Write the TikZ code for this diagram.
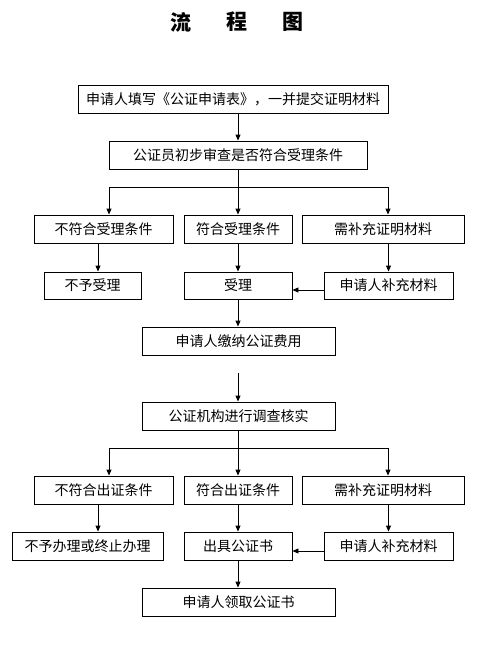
\documentclass[tikz,border=0pt]{standalone}
\usepackage{fontspec}
\setmainfont{Noto Sans CJK SC}
\usetikzlibrary{arrows.meta,positioning}
\tikzset{
  box/.style={draw, line width=0.9pt, inner sep=0pt, minimum height=28pt, font=\fontsize{14}{14}\selectfont},
  link/.style={line width=0.9pt},
  arr/.style={line width=0.9pt, -{Triangle[width=5pt,length=6pt]}}
}
\begin{document}
\begin{tikzpicture}[x=1pt,y=-1pt]
  \useasboundingbox[fill=white] (0,0) rectangle (480,651);
  \node[font=\fontsize{21}{21}\selectfont\bfseries] (ttlA) at (181,22) {流};
  \node[font=\fontsize{21}{21}\selectfont\bfseries] (ttlB) at (237,22) {程};
  \node[font=\fontsize{21}{21}\selectfont\bfseries] (ttlC) at (293,22) {图};

  \node[box, minimum width=310pt] (apply) at (233,99.5) {申请人填写《公证申请表》，一并提交证明材料};
  \node[box, minimum width=258pt] (check) at (238,155) {公证员初步审查是否符合受理条件};
  \node[box, minimum width=139pt] (nofit) at (103.5,229) {不符合受理条件};
  \node[box, minimum width=108pt] (fit) at (238,229) {符合受理条件};
  \node[box, minimum width=162pt] (more) at (383,229) {需补充证明材料};
  \node[box, minimum width=97pt, minimum height=27pt] (reject) at (92.5,285.5) {不予受理};
  \node[box, minimum width=108pt, minimum height=27pt] (accept) at (238,285.5) {受理};
  \node[box, minimum width=129pt, minimum height=27pt] (supply) at (388.5,285.5) {申请人补充材料};
  \node[box, minimum width=193pt] (fee) at (238.5,341) {申请人缴纳公证费用};

  \node[box, minimum width=193pt] (verify) at (238.5,416) {公证机构进行调查核实};
  \node[box, minimum width=139pt] (nofitB) at (103.5,490) {不符合出证条件};
  \node[box, minimum width=108pt] (fitB) at (238,490) {符合出证条件};
  \node[box, minimum width=162pt] (moreB) at (383,490) {需补充证明材料};
  \node[box, minimum width=151pt] (stop) at (87.5,546) {不予办理或终止办理};
  \node[box, minimum width=108pt] (issue) at (238,546) {出具公证书};
  \node[box, minimum width=129pt] (supplyB) at (388.5,546) {申请人补充材料};
  \node[box, minimum width=193pt] (collect) at (238.5,602) {申请人领取公证书};

  \coordinate (brA) at (109,187);
  \coordinate (brC) at (388,187);
  \coordinate (brAB) at (109,448);
  \coordinate (brCB) at (388,448);
  \coordinate (dn) at (98,0);
  \coordinate (gap) at (238,373);
  \coordinate (back) at ([yshift=-4.5pt]supply.west);
  \coordinate (backB) at ([yshift=-5pt]supplyB.west);

  \draw[arr] (check.north |- apply.south) -- (check.north);
  \draw[link] (check.south) -- (check.south |- brA);
  \draw[link] (brA) -- (brC);
  \draw[arr] (brA) -- (brA |- nofit.north);
  \draw[arr] (check.south |- brA) -- (fit.north);
  \draw[arr] (brC) -- (brC |- more.north);
  \draw[arr] (dn |- nofit.south) -- (dn |- reject.north);
  \draw[arr] (fit.south) -- (accept.north);
  \draw[arr] (supply.north |- more.south) -- (supply.north);
  \draw[arr] (back) -- (back -| accept.east);
  \draw[arr] (accept.south) -- (accept.south |- fee.north);

  \draw[arr] (gap) -- (gap |- verify.north);
  \draw[link] (gap |- verify.south) -- (gap |- brAB);
  \draw[link] (brAB) -- (brCB);
  \draw[arr] (brAB) -- (brAB |- nofitB.north);
  \draw[arr] (gap |- brAB) -- (fitB.north);
  \draw[arr] (brCB) -- (brCB |- moreB.north);
  \draw[arr] (dn |- nofitB.south) -- (dn |- stop.north);
  \draw[arr] (fitB.south) -- (issue.north);
  \draw[arr] (supplyB.north |- moreB.south) -- (supplyB.north);
  \draw[arr] (backB) -- (backB -| issue.east);
  \draw[arr] (issue.south) -- (issue.south |- collect.north);
\end{tikzpicture}
\end{document}
